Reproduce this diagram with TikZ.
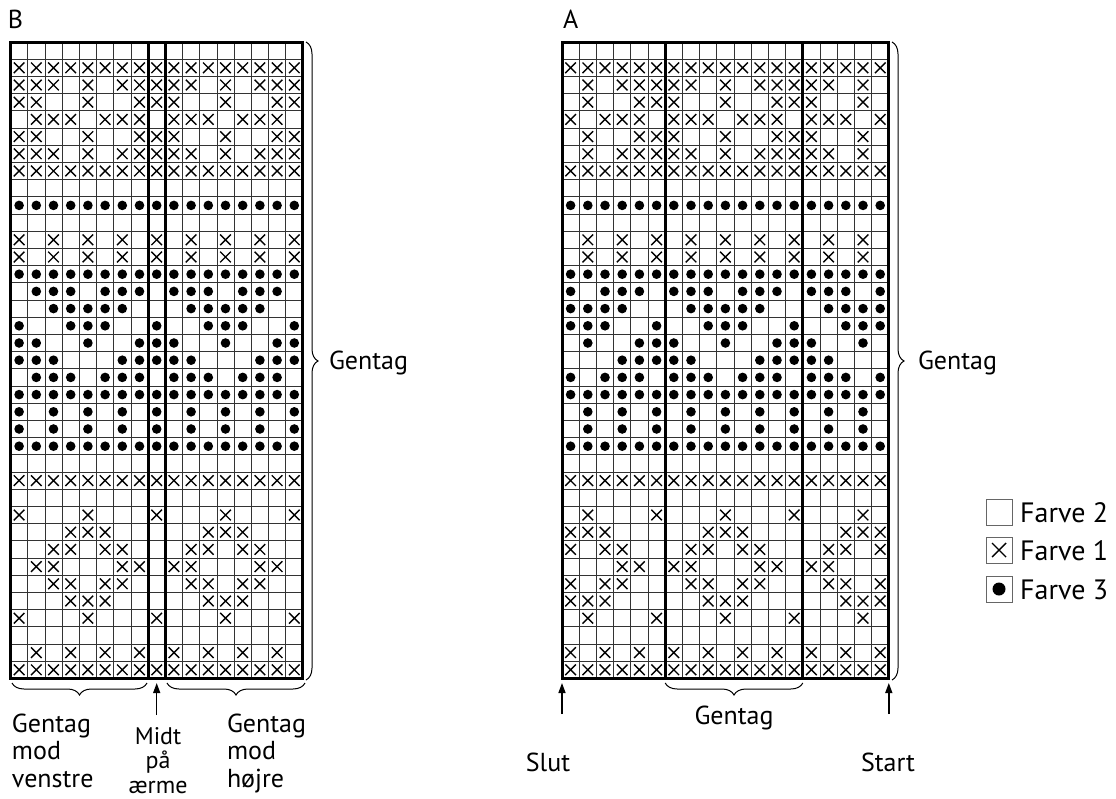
\documentclass[tikz,border=0pt]{standalone}
\usepackage{fontspec}
\setmainfont{PT Sans}
\usetikzlibrary{decorations.pathreplacing,arrows.meta}
\newcount\cc
\def\cs{17.2}
\def\yo{42}
\def\chartrow#1#2#3{\def\rx{#1}\def\ry{(\yo+(#2-0.5)*\cs)}\cc=0 \dochar#3/}
\def\dochar#1{\if#1/\else\markcell#1\advance\cc by 1 \expandafter\dochar\fi}
\def\markcell#1{\if#1x\drawX\fi\if#1o\drawO\fi}
\def\drawX{\draw[xmark] ({\rx+(\the\cc+0.5)*\cs-5.3},{\ry-5.3}) -- ++(10.6,10.6) ++(-10.6,0) -- ++(10.6,-10.6);}
\def\drawO{\fill ({\rx+(\the\cc+0.5)*\cs},{\ry}) circle (4.8);}
\begin{document}
\begin{tikzpicture}[x=1pt,y=-1pt,
  gridline/.style={line width=0.8pt, draw=black!80},
  frame/.style={line width=3pt, draw=black},
  xmark/.style={line width=1.4pt, draw=black},
  brc/.style={decorate, decoration={brace, amplitude=12pt}, line width=1pt},
  lbl/.style={font=\fontsize{26}{30}\selectfont, inner sep=0pt, outer sep=0pt},
  mlbl/.style={font=\fontsize{24}{28}\selectfont, inner sep=0pt, outer sep=0pt},
  leg/.style={font=\fontsize{28}{32}\selectfont, inner sep=0pt},
  legbox/.style={draw=black!60, line width=1pt, fill=white},
  arr/.style={-{Triangle[length=10pt,width=7pt]}, line width=1.4pt}]
\useasboundingbox (0,0) rectangle (1116,798);
% ---------------- Chart B ----------------
\foreach \i in {0,...,17} \draw[gridline] ({10.5+\i*\cs},\yo) -- ({10.5+\i*\cs},{\yo+37*\cs});
\foreach \j in {0,...,37} \draw[gridline] (10.5,{\yo+\j*\cs}) -- ({10.5+17*\cs},{\yo+\j*\cs});
\chartrow{10.5}{1}{.................}
\chartrow{10.5}{2}{xxxxxxxxxxxxxxxxx}
\chartrow{10.5}{3}{xxx.x.xxxxx.x.xxx}
\chartrow{10.5}{4}{xx..x..xxx..x..xx}
\chartrow{10.5}{5}{.xxx.xxx.xxx.xxx.}
\chartrow{10.5}{6}{xx..x..xxx..x..xx}
\chartrow{10.5}{7}{xxx.x.xxxxx.x.xxx}
\chartrow{10.5}{8}{xxxxxxxxxxxxxxxxx}
\chartrow{10.5}{10}{ooooooooooooooooo}
\chartrow{10.5}{12}{x.x.x.x.x.x.x.x.x}
\chartrow{10.5}{13}{x.x.x.x.x.x.x.x.x}
\chartrow{10.5}{14}{ooooooooooooooooo}
\chartrow{10.5}{15}{.ooo.ooo.ooo.ooo.}
\chartrow{10.5}{16}{..ooooo...ooooo..}
\chartrow{10.5}{17}{o..ooo..o..ooo..o}
\chartrow{10.5}{18}{oo..o..ooo..o..oo}
\chartrow{10.5}{19}{ooo...ooooo...ooo}
\chartrow{10.5}{20}{.ooo.ooo.ooo.ooo.}
\chartrow{10.5}{21}{ooooooooooooooooo}
\chartrow{10.5}{22}{o.o.o.o.o.o.o.o.o}
\chartrow{10.5}{23}{o.o.o.o.o.o.o.o.o}
\chartrow{10.5}{24}{ooooooooooooooooo}
\chartrow{10.5}{26}{xxxxxxxxxxxxxxxxx}
\chartrow{10.5}{28}{x...x...x...x...x}
\chartrow{10.5}{29}{...xxx.....xxx...}
\chartrow{10.5}{30}{..xx.xx...xx.xx..}
\chartrow{10.5}{31}{.xx...xx.xx...xx.}
\chartrow{10.5}{32}{..xx.xx...xx.xx..}
\chartrow{10.5}{33}{...xxx.....xxx...}
\chartrow{10.5}{34}{x...x...x...x...x}
\chartrow{10.5}{36}{.x.x.x.x.x.x.x.x.}
\chartrow{10.5}{37}{xxxxxxxxxxxxxxxxx}
\coordinate (Btl) at (10.5,\yo);
\coordinate (Bbr) at ({10.5+17*\cs},{\yo+37*\cs});
\draw[frame] (Btl) rectangle (Bbr);
\draw[frame] ({10.5+8*\cs},\yo) -- ({10.5+8*\cs},{\yo+37*\cs});
\draw[frame] ({10.5+9*\cs},\yo) -- ({10.5+9*\cs},{\yo+37*\cs});
% ---------------- Chart A ----------------
\foreach \i in {0,...,19} \draw[gridline] ({562+\i*\cs},\yo) -- ({562+\i*\cs},{\yo+37*\cs});
\foreach \j in {0,...,37} \draw[gridline] (562,{\yo+\j*\cs}) -- ({562+19*\cs},{\yo+\j*\cs});
\chartrow{562}{2}{xxxxxxxxxxxxxxxxxxx}
\chartrow{562}{3}{.x.xxxxx.x.xxxxx.x.}
\chartrow{562}{4}{.x..xxx..x..xxx..x.}
\chartrow{562}{5}{x.xxx.xxx.xxx.xxx.x}
\chartrow{562}{6}{.x..xxx..x..xxx..x.}
\chartrow{562}{7}{.x.xxxxx.x.xxxxx.x.}
\chartrow{562}{8}{xxxxxxxxxxxxxxxxxxx}
\chartrow{562}{10}{ooooooooooooooooooo}
\chartrow{562}{12}{.x.x.x.x.x.x.x.x.x.}
\chartrow{562}{13}{.x.x.x.x.x.x.x.x.x.}
\chartrow{562}{14}{ooooooooooooooooooo}
\chartrow{562}{15}{o.ooo.ooo.ooo.ooo.o}
\chartrow{562}{16}{oooo...ooooo...oooo}
\chartrow{562}{17}{ooo..o..ooo..o..ooo}
\chartrow{562}{18}{.o..ooo..o..ooo..o.}
\chartrow{562}{19}{...ooooo...ooooo...}
\chartrow{562}{20}{o.ooo.ooo.ooo.ooo.o}
\chartrow{562}{21}{ooooooooooooooooooo}
\chartrow{562}{22}{.o.o.o.o.o.o.o.o.o.}
\chartrow{562}{23}{.o.o.o.o.o.o.o.o.o.}
\chartrow{562}{24}{ooooooooooooooooooo}
\chartrow{562}{26}{xxxxxxxxxxxxxxxxxxx}
\chartrow{562}{28}{.x...x...x...x...x.}
\chartrow{562}{29}{xxx.....xxx.....xxx}
\chartrow{562}{30}{x.xx...xx.xx...xx.x}
\chartrow{562}{31}{...xx.xx...xx.xx...}
\chartrow{562}{32}{x.xx...xx.xx...xx.x}
\chartrow{562}{33}{xxx.....xxx.....xxx}
\chartrow{562}{34}{.x...x...x...x...x.}
\chartrow{562}{36}{x.x.x.x.x.x.x.x.x.x}
\chartrow{562}{37}{xxxxxxxxxxxxxxxxxxx}
\coordinate (Atl) at (562,\yo);
\coordinate (Abr) at ({562+19*\cs},{\yo+37*\cs});
\draw[frame] (Atl) rectangle (Abr);
\draw[frame] ({562+6*\cs},\yo) -- ({562+6*\cs},{\yo+37*\cs});
\draw[frame] ({562+14*\cs},\yo) -- ({562+14*\cs},{\yo+37*\cs});
% ---------------- titles ----------------
\node[lbl, anchor=base west] (tB) at (8,28) {B};
\node[lbl, anchor=base west] (tA) at (563,28) {A};
% ---------------- braces B ----------------
\draw[brc] (306,42) -- (306,680);
\node[lbl, anchor=base west] (gB) at (329,369) {Gentag};
\draw[brc] (147,683) -- (12,683);
\draw[brc] (305,683) -- (167,683);
\node[lbl, anchor=base west] (bl1) at (12,732) {Gentag};
\node[lbl, anchor=base west] (bl2) at (12,759) {mod};
\node[lbl, anchor=base west] (bl3) at (12,787) {venstre};
\node[mlbl, anchor=base] (bm1) at (158,744) {Midt};
\node[mlbl, anchor=base] (bm2) at (158,768) {på};
\node[mlbl, anchor=base] (bm3) at (158,793) {ærme};
\node[lbl, anchor=base west] (br1) at (227,732) {Gentag};
\node[lbl, anchor=base west] (br2) at (227,759) {mod};
\node[lbl, anchor=base west] (br3) at (227,787) {højre};
\coordinate (mtip) at ({10.5+8.5*\cs},683);
\coordinate (mtail) at ({10.5+8.5*\cs},715);
\draw[arr] (mtail) -- (mtip);
% ---------------- braces A ----------------
\draw[brc] (892,42) -- (892,680);
\node[lbl, anchor=base west] (gA) at (918,369) {Gentag};
\draw[brc] ({562+14*\cs},683) -- ({562+6*\cs},683);
\node[lbl, anchor=base] (ag) at ({562+10*\cs},724) {Gentag};
\coordinate (stip) at (562,683);
\coordinate (stail) at (562,714);
\draw[arr] (stail) -- (stip);
\node[lbl, anchor=base] (slut) at (548,771) {Slut};
\coordinate (ttip) at ({562+19*\cs},683);
\coordinate (ttail) at ({562+19*\cs},714);
\draw[arr] (ttail) -- (ttip);
\node[lbl, anchor=base] (start) at (888,771) {Start};
% ---------------- legend ----------------
\draw[legbox] (986,499) rectangle (1012,525);
\node[leg, anchor=base west] (f2) at (1020,522) {Farve 2};
\draw[legbox] (986,537) rectangle (1012,563);
\draw[xmark] (992,543) -- (1006,557) (992,557) -- (1006,543);
\node[leg, anchor=base west] (f1) at (1020,560) {Farve 1};
\draw[legbox] (986,576) rectangle (1012,602);
\fill (999,589) circle (6.5);
\node[leg, anchor=base west] (f3) at (1020,599) {Farve 3};
\end{tikzpicture}
\end{document}
